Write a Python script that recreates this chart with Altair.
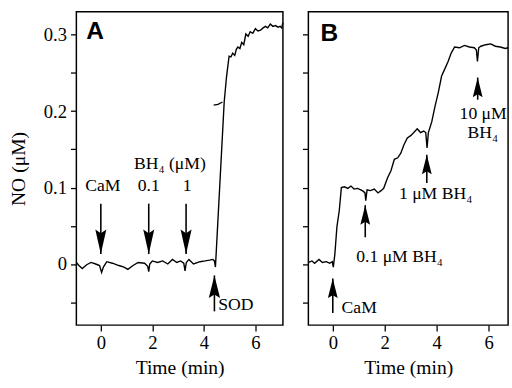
import altair as alt
import pandas as pd

# ---------------- data ----------------
# Panel A trace (time in min, NO in uM)
A_t = [-0.95, -0.85, -0.72, -0.55, -0.38, -0.2, -0.05, 0.03, 0.1, 0.23, 0.45, 0.7, 0.9, 1.0, 1.05,
       1.25, 1.45, 1.7, 1.82, 1.86, 1.9, 2.0, 2.2, 2.4, 2.6, 2.78, 2.95, 3.1, 3.22, 3.27, 3.32,
       3.42, 3.6, 3.85, 4.05, 4.22, 4.35, 4.41, 4.45, 4.79, 4.88, 4.98, 5.05, 5.12, 5.2, 5.26,
       5.32, 5.4, 5.47, 5.55, 5.63, 5.72, 5.8, 5.9, 6.0, 6.1, 6.2, 6.3, 6.39, 6.48, 6.58, 6.68,
       6.78, 6.88, 6.96, 7.02, 7.07]
A_no = [0.002, -0.002, -0.006, -0.001, 0.002, 0.0, -0.002, -0.011, -0.004, 0.003, 0.001, -0.002,
        -0.004, -0.006, -0.007, -0.002, 0.002, 0.001, -0.003, -0.010, 0.0, 0.004, 0.002, 0.004,
        0.000, 0.006, 0.002, 0.004, 0.001, -0.009, 0.002, 0.006, 0.000, 0.003, 0.004, 0.005,
        0.006, 0.004, -0.004, 0.212, 0.245, 0.272, 0.271, 0.276, 0.273, 0.281, 0.284, 0.282,
        0.29, 0.287, 0.301, 0.298, 0.304, 0.302, 0.308, 0.305, 0.306, 0.309, 0.311, 0.309,
        0.314, 0.311, 0.312, 0.310, 0.311, 0.309, 0.316]
# small stray fragment beside the SOD rise
A2_t = [4.38, 4.55, 4.72]
A2_no = [0.208, 0.209, 0.212]

# Panel B trace
B_t = [-0.94, -0.8, -0.7, -0.53, -0.4, -0.25, -0.12, -0.02, 0.02, 0.08, 0.16, 0.25, 0.33, 0.45,
       0.58, 0.7, 0.82, 0.95, 1.08, 1.18, 1.24, 1.27, 1.32, 1.45, 1.6, 1.74, 1.86, 1.96, 2.11,
       2.24, 2.37, 2.5, 2.62, 2.74, 2.87, 3.0, 3.12, 3.25, 3.38, 3.5, 3.58, 3.63, 3.68, 3.81,
       3.94, 4.06, 4.19, 4.31, 4.44, 4.56, 4.69, 4.88, 5.07, 5.26, 5.45, 5.53, 5.57, 5.62, 5.7,
       5.89, 6.08, 6.26, 6.45, 6.64, 6.75]
B_no = [0.002, 0.004, 0.001, 0.006, 0.002, 0.003, 0.001, 0.003, -0.004, 0.013, 0.049, 0.07,
        0.1, 0.101, 0.099, 0.102, 0.098, 0.099, 0.097, 0.095, 0.093, 0.083, 0.097, 0.096,
        0.098, 0.093, 0.096, 0.099, 0.113, 0.122, 0.137, 0.139, 0.145, 0.156, 0.165, 0.168,
        0.172, 0.177, 0.172, 0.174, 0.172, 0.152, 0.172, 0.186, 0.207, 0.224, 0.246, 0.255,
        0.265, 0.276, 0.284, 0.283, 0.286, 0.284, 0.283, 0.28, 0.265, 0.283, 0.285, 0.287,
        0.288, 0.285, 0.284, 0.282, 0.283]

# arrows: x position, arrow tip, shaft end
A_down_x = [0.0, 1.86, 3.31]
A_down_tip = [0.013, 0.013, 0.013]
A_down_end = [0.079, 0.079, 0.079]
A_up_x = [4.41]
A_up_tip = [-0.015]
A_up_end = [-0.062]
B_up_x = [0.0, 1.25, 3.62, 5.58]
B_up_tip = [-0.019, 0.077, 0.143, 0.244]
B_up_end = [-0.064, 0.035, 0.106, 0.215]

# annotation labels
A_lab_text = ["CaM", "0.1", "1", "BH\u2084 (\u03bcM)"]
A_lab_x = [0.08, 1.86, 3.35, 2.68]
A_lab_y = [0.095, 0.095, 0.095, 0.124]
A_lab2_text = ["SOD"]
A_lab2_x = [4.56]
A_lab2_y = [-0.060]
B_lab_text = ["0.1 \u03bcM BH\u2084", "1 \u03bcM BH\u2084", "10 \u03bcM", "BH\u2084"]
B_lab_x = [2.57, 3.96, 5.79, 5.78]
B_lab_y = [0.002, 0.085, 0.19, 0.165]
B_lab2_text = ["CaM"]
B_lab2_x = [0.34]
B_lab2_y = [-0.064]

panel_letters = ["A", "B"]
letter_x = [-0.57, -0.47]
letter_y = [0.295, 0.292]

x_ticks = [0, 2, 4, 6]
y_ticks = [-0.05, 0, 0.05, 0.1, 0.15, 0.2, 0.25, 0.3]

# ---------------- chart ----------------
SERIF = "Liberation Serif"
YDOM = [-0.08, 0.33]
HEIGHT = 320

DOWN_HEAD = "M0,0 L-0.45,-2 L0,-1.7 L0.45,-2 Z"
UP_HEAD = "M0,0 L-0.5,2 L0,1.7 L0.5,2 Z"


def panel(xdom, width, trace_t, trace_no, extra_lines, arrows, labels_c, labels_l,
          letter, lx, ly, show_y):
    xs = alt.Scale(domain=xdom, nice=False, zero=False)
    ys = alt.Scale(domain=YDOM, nice=False, zero=False)
    if show_y:
        yaxis = alt.Axis(values=y_ticks, title="NO (\u03bcM)",
                         labelExpr="abs(datum.value*10 - round(datum.value*10)) < 0.01 ? "
                                   "(datum.value == 0 ? '0' : format(datum.value, '.1f')) : ''",
                         labelPadding=4, titleX=-49, titleY=HEIGHT / 2)
    else:
        yaxis = alt.Axis(values=y_ticks, title=None, labels=False)
    xaxis = alt.Axis(values=x_ticks, title="Time (min)", format="d", labelPadding=3,
                     titlePadding=5)

    df = pd.DataFrame({"t": trace_t, "no": trace_no})
    layers = [
        alt.Chart(df).mark_line(color="black", strokeWidth=1.4).encode(
            x=alt.X("t:Q", scale=xs, axis=xaxis),
            y=alt.Y("no:Q", scale=ys, axis=yaxis),
        )
    ]
    for (et, eno) in extra_lines:
        layers.append(
            alt.Chart(pd.DataFrame({"t": et, "no": eno})).mark_line(
                color="black", strokeWidth=1.4).encode(
                x=alt.X("t:Q", scale=xs), y=alt.Y("no:Q", scale=ys))
        )
    for (ax, atip, aend, path, size) in arrows:
        adf = pd.DataFrame({"x": ax, "tip": atip, "end": aend})
        layers.append(
            alt.Chart(adf).mark_rule(color="black", strokeWidth=1.6).encode(
                x=alt.X("x:Q", scale=xs), y=alt.Y("tip:Q", scale=ys), y2="end:Q")
        )
        layers.append(
            alt.Chart(adf).mark_point(shape=path, filled=True, color="black", size=size,
                                      opacity=1, strokeWidth=0).encode(
                x=alt.X("x:Q", scale=xs), y=alt.Y("tip:Q", scale=ys))
        )
    for (txt, tx, ty, align) in labels_c + labels_l:
        ldf = pd.DataFrame({"text": txt, "x": tx, "y": ty})
        layers.append(
            alt.Chart(ldf).mark_text(font=SERIF, fontSize=18, color="black", align=align,
                                     baseline="alphabetic").encode(
                x=alt.X("x:Q", scale=xs), y=alt.Y("y:Q", scale=ys), text="text:N")
        )
    layers.append(
        alt.Chart(pd.DataFrame({"text": [letter], "x": [lx], "y": [ly]})).mark_text(
            font="Liberation Sans", fontSize=25, fontWeight="bold", color="black",
            align="left", baseline="alphabetic").encode(
            x=alt.X("x:Q", scale=xs), y=alt.Y("y:Q", scale=ys), text="text:N")
    )
    return alt.layer(*layers).properties(width=width, height=HEIGHT)


pA = panel([-0.95, 7.07], 211, A_t, A_no, [(A2_t, A2_no)],
           [(A_down_x, A_down_tip, A_down_end, DOWN_HEAD, 625),
            (A_up_x, A_up_tip, A_up_end, UP_HEAD, 529)],
           [(A_lab_text, A_lab_x, A_lab_y, "center")],
           [(A_lab2_text, A_lab2_x, A_lab2_y, "left")],
           panel_letters[0], letter_x[0], letter_y[0], True)

pB = panel([-0.94, 6.75], 204, B_t, B_no, [],
           [(B_up_x, B_up_tip, B_up_end, UP_HEAD, 400)],
           [(B_lab_text, B_lab_x, B_lab_y, "center")],
           [(B_lab2_text, B_lab2_x, B_lab2_y, "left")],
           panel_letters[1], letter_x[1], letter_y[1], False)

chart = alt.hconcat(pA, pB, spacing=14).properties(
    padding={"left": 8, "top": 7, "right": 0, "bottom": 0},
    background="white",
).configure_view(
    stroke="black", strokeWidth=1.5
).configure_axis(
    labelFont=SERIF, labelFontSize=19, labelColor="black",
    titleFont=SERIF, titleFontSize=20, titleFontWeight="normal", titleColor="black",
    tickColor="black", tickSize=6, tickWidth=1.3, domain=False, grid=False,
)

chart.save("out.html", embed_options={"renderer": "svg", "actions": False})
